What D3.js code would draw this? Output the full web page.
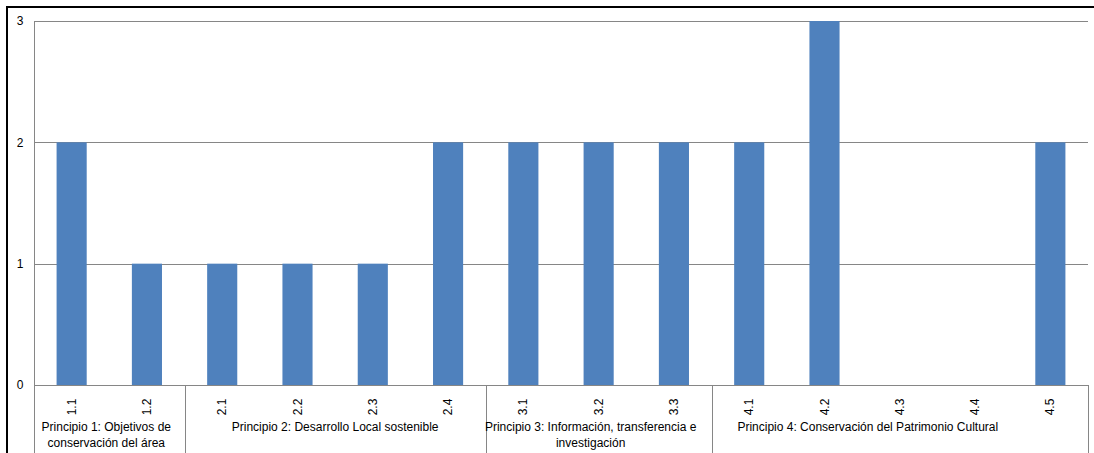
<!DOCTYPE html>
<html>
<head>
<meta charset="utf-8">
<script src="https://cdn.jsdelivr.net/npm/d3@7"></script>
<style>
  body { margin: 0; background: #fff; }
  text { font-family: "Liberation Sans", Arial, sans-serif; fill: #000; }
</style>
</head>
<body>
<div id="chart-area"></div>
<script>
// data
var categories = ["1.1", "1.2", "2.1", "2.2", "2.3", "2.4", "3.1", "3.2", "3.3", "4.1", "4.2", "4.3", "4.4", "4.5"];
var values = [2, 1, 1, 1, 1, 2, 2, 2, 2, 2, 3, 0, 0, 2];
var yTicks = [0, 1, 2, 3];
var groupNames = [
  ["Principio 1: Objetivos de", "conservación del área"],
  ["Principio 2: Desarrollo Local sostenible"],
  ["Principio 3: Información, transferencia e", "investigación"],
  ["Principio 4: Conservación del Patrimonio Cultural"]
];
var groupLast = ["1.2", "2.4", "3.3", "4.5"];
// the labels are not quite centred in their span in the original
var groupShift = [-3, 0, -8, -32];

var width = 1094, height = 453;
var pLeft = 34, pRight = 1088, pTop = 21, pBottom = 385;

var svg = d3.select("#chart-area").append("svg")
  .attr("width", width)
  .attr("height", height);

// outer frame
svg.append("rect")
  .attr("x", 7).attr("y", 7)
  .attr("width", 1100).attr("height", 460)
  .attr("fill", "none")
  .attr("stroke", "#000")
  .attr("stroke-width", 2);

var x = d3.scaleBand()
  .domain(categories)
  .range([pLeft, pRight])
  .paddingInner(0.6)
  .paddingOuter(0.3);

var y = d3.scaleLinear()
  .domain([0, 3])
  .range([pBottom, pTop]);

// gridlines
svg.append("g").selectAll("line")
  .data(yTicks)
  .enter().append("line")
    .attr("x1", pLeft).attr("x2", pRight)
    .attr("y1", (d) => Math.round(y(d)) + 0.5)
    .attr("y2", (d) => Math.round(y(d)) + 0.5)
    .attr("stroke", "#868686")
    .attr("stroke-width", 1);

// y labels
svg.append("g").selectAll("text")
  .data(yTicks)
  .enter().append("text")
    .attr("x", 20)
    .attr("y", (d) => y(d))
    .attr("dy", "0.35em")
    .attr("text-anchor", "middle")
    .attr("font-size", "12px")
    .text((d) => d);

// bars
svg.append("g").selectAll("rect")
  .data(values)
  .enter().append("rect")
    .attr("x", (d, i) => x(categories[i]))
    .attr("y", (d) => y(d))
    .attr("width", x.bandwidth())
    .attr("height", (d) => pBottom - y(d))
    .attr("fill", "#4f81bd");

// y axis line
svg.append("line")
  .attr("x1", pLeft + 0.5).attr("x2", pLeft + 0.5)
  .attr("y1", pTop).attr("y2", height)
  .attr("stroke", "#868686");

// group separators down from the baseline
var seps = [pLeft];
groupLast.forEach((c) => { seps.push(x(c) + x.bandwidth() + x.step() * 0.3); });
seps[seps.length - 1] = pRight;
svg.append("g").selectAll("line")
  .data(seps)
  .enter().append("line")
    .attr("x1", (d) => Math.round(d) + 0.5)
    .attr("x2", (d) => Math.round(d) + 0.5)
    .attr("y1", pBottom).attr("y2", height)
    .attr("stroke", "#868686");

// category labels, rotated
svg.append("g").selectAll("text")
  .data(categories)
  .enter().append("text")
    .attr("transform", (d) => "translate(" + (x(d) + x.bandwidth() / 2 + 4) + "," + 407 + ") rotate(-90)")
    .attr("text-anchor", "middle")
    .attr("font-size", "12px")
    .text((d) => d);

// group labels
groupNames.forEach((lines, i) => {
  var cx = (seps[i] + seps[i + 1]) / 2 + groupShift[i];
  lines.forEach((t, j) => {
    svg.append("text")
      .attr("x", cx)
      .attr("y", 431 + j * 16)
      .attr("text-anchor", "middle")
      .attr("font-size", "12px")
      .text(t);
  });
});
</script>
</body>
</html>
